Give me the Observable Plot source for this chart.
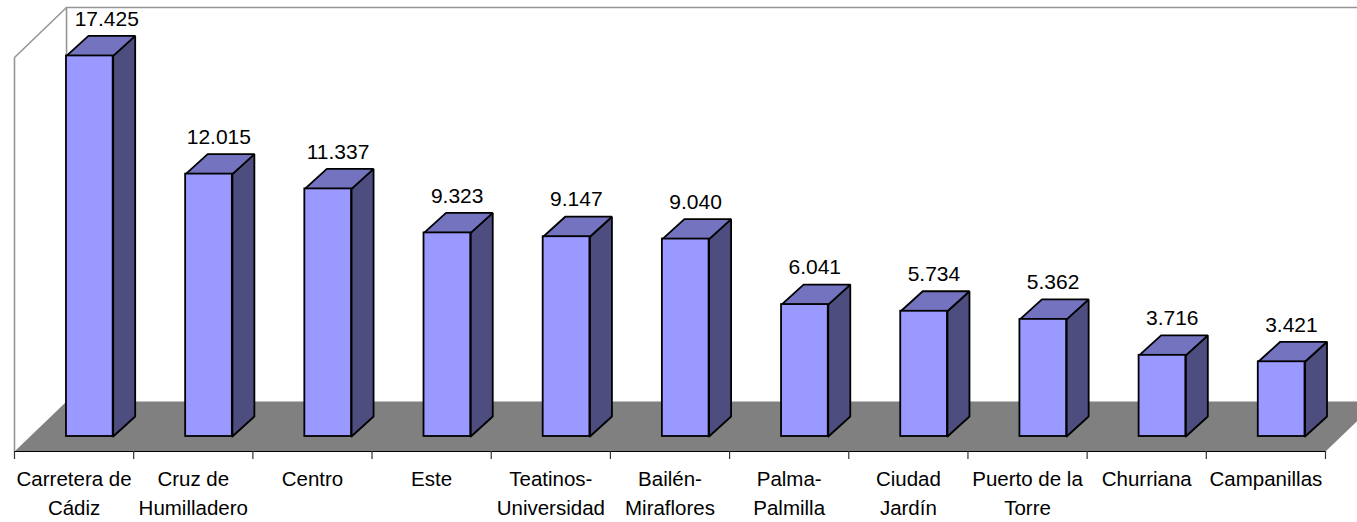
<!DOCTYPE html>
<html>
<head>
<meta charset="utf-8">
<script src="https://cdn.jsdelivr.net/npm/d3@7"></script>
<script src="https://cdn.jsdelivr.net/npm/@observablehq/plot@0.6"></script>
<style>
html,body{margin:0;padding:0;background:#fff;overflow:hidden}
svg{display:block}
</style>
</head>
<body>
<div id="chart"></div>
<script>
const categories = ["Carretera de\nCádiz","Cruz de\nHumilladero","Centro","Este","Teatinos-\nUniversidad","Bailén-\nMiraflores","Palma-\nPalmilla","Ciudad\nJardín","Puerto de la\nTorre","Churriana","Campanillas"];
const values = [17425,12015,11337,9323,9147,9040,6041,5734,5362,3716,3421];

// Geometry of the pseudo-3D box, in data units (x: category slots, y: value units)
const barStart = 0.436, barWidth = 0.392;
const depthX = 0.1847, depthY = 916;
const floorX = 0.4366, floorY = 2290;
const yMin = -687, yMax = 19643;
const slots = categories.length;
const firstLabelShift = 0.06; // the tallest bar's label sits further right, beside the frame

const fmt = d3.formatLocale({decimal:",",thousands:".",grouping:[3],currency:["",""]}).format(",");
const rows = values.map((v,i)=>({i,v,x1:i+barStart,x2:i+barStart+barWidth,label:fmt(v),name:categories[i]}));

const side = rows.flatMap(d=>[[d.x2,0],[d.x2+depthX,depthY],[d.x2+depthX,d.v+depthY],[d.x2,d.v],[d.x2,0]].map(([x,y])=>({x,y,z:d.i})));
const top_ = rows.flatMap(d=>[[d.x1,d.v],[d.x1+depthX,d.v+depthY],[d.x2+depthX,d.v+depthY],[d.x2,d.v],[d.x1,d.v]].map(([x,y])=>({x,y,z:d.i})));
const floor = [[0,yMin],[slots,yMin],[slots+floorX,yMin+floorY],[floorX,yMin+floorY]].map(([x,y])=>({x,y}));
const wall = [[0,yMin],[0,yMax-floorY],[floorX,yMax],[slots+floorX,yMax]].map(([x,y])=>({x,y}));
const wallBack = [[floorX,yMax],[floorX,yMin+floorY]].map(([x,y])=>({x,y}));

const font = "Liberation Sans, Arial, sans-serif";
const chart = Plot.plot({
  width:1357, height:522,
  marginLeft:0, marginRight:0, marginTop:7, marginBottom:71,
  style:{background:"#fff", fontFamily:font},
  x:{type:"linear", domain:[0,slots], range:[14,1325]},
  y:{type:"linear", domain:[yMin,yMax], axis:null},
  marks:[
    Plot.line(floor,{x:"x",y:"y",fill:"#808080",stroke:"none",clip:true}),
    Plot.line(wallBack,{x:"x",y:"y",stroke:"#969696",strokeWidth:1.6}),
    Plot.line(wall,{x:"x",y:"y",stroke:"#969696",strokeWidth:1.6,clip:false}),
    Plot.ruleY([yMin],{x1:0,x2:slots,stroke:"#000",strokeWidth:1.2}),
    Plot.axisX({ticks:d3.range(slots+1),tickSize:8,tickFormat:()=>"",stroke:"#333",strokeWidth:1.2,tickPadding:0}),
    Plot.line(side,{x:"x",y:"y",z:"z",fill:"#4D4D80",stroke:"#000",strokeWidth:1.8,strokeLinejoin:"miter"}),
    Plot.line(top_,{x:"x",y:"y",z:"z",fill:"#7373BF",stroke:"#000",strokeWidth:1.8,strokeLinejoin:"miter"}),
    Plot.rect(rows,{x1:"x1",x2:"x2",y1:0,y2:"v",fill:"#9999FF",stroke:"#000",strokeWidth:1.8}),
    Plot.text(rows,{x:d=>d.i+barStart+barWidth/2+depthX/2+(d.i===0?firstLabelShift:0)-0.01,y:d=>d.v+depthY,text:"label",dy:-17,fontSize:21,fill:"#000",lineAnchor:"middle"}),
    Plot.text(rows,{x:d=>d.i+0.5,frameAnchor:"bottom",text:"name",dy:14,fontSize:20.5,lineHeight:29/20.5,lineAnchor:"top",fill:"#000"})
  ]
});
document.getElementById("chart").appendChild(chart);
</script>
</body>
</html>
